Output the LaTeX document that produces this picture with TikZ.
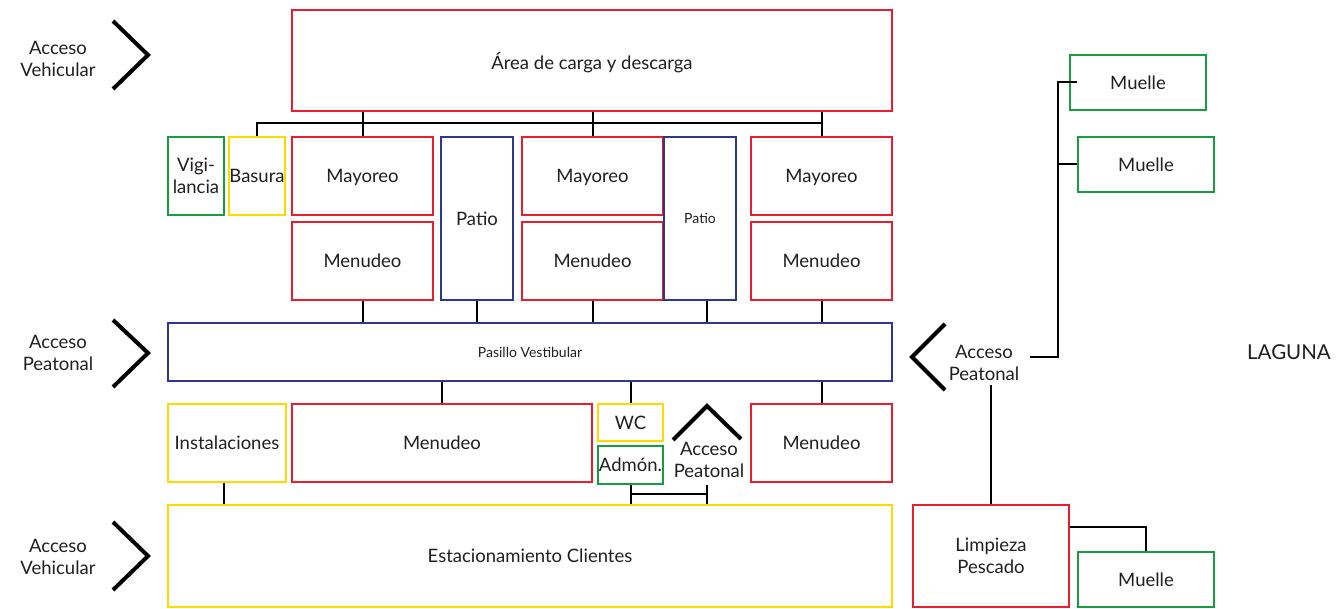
\documentclass[tikz,border=0pt]{standalone}
\usepackage{fontspec}
\setmainfont{Lato}
\definecolor{cred}{RGB}{230,30,45}
\definecolor{cblue}{RGB}{45,55,140}
\definecolor{cgreen}{RGB}{25,155,65}
\definecolor{cyellow}{RGB}{255,218,0}
\definecolor{txt}{RGB}{35,31,32}
\newcommand{\fntN}{\fontsize{18.5}{22}\selectfont}
\newcommand{\fntS}{\fontsize{14}{16}\selectfont}
\newcommand{\fntL}{\fontsize{20.5}{24}\selectfont}
\begin{document}
\begin{tikzpicture}[x=1pt,y=-1pt,
  box/.style={draw=#1, line width=1.3pt, inner sep=0pt, align=center, text=txt, font=\fntN, text depth=0pt},
  conn/.style={line width=2pt, black},
  chev/.style={line width=4pt, black},
  lbl/.style={align=center, text=txt, font=\fntN, inner sep=0pt}]
\useasboundingbox[fill=white] (0,0) rectangle (1336,609);
% top block
\node[box=cred, minimum width=600pt, minimum height=101pt] (area) at (592,60.5) {Área de carga y descarga};
\node[box=cgreen, minimum width=56pt, minimum height=78pt] (vig) at (196,176) {Vigi-\\lancia};
\node[box=cyellow, minimum width=56pt, minimum height=78pt] (bas) at (257,176) {Basura};
\node[box=cred, minimum width=141pt, minimum height=78pt] (may1) at (362.5,176) {Mayoreo};
\node[box=cred, minimum width=141pt, minimum height=78pt] (men1) at (362.5,261) {Menudeo};
\node[box=cblue, minimum width=72pt, minimum height=163pt] (pat1) at (477,218.5) {Patio};
\node[box=cred, minimum width=141pt, minimum height=78pt] (may2) at (592.5,176) {Mayoreo};
\node[box=cred, minimum width=141pt, minimum height=78pt] (men2) at (592.5,261) {Menudeo};
\node[box=cblue, minimum width=72pt, minimum height=163pt, font=\fntS] (pat2) at (700,218.5) {Patio};
\node[box=cred, minimum width=141pt, minimum height=78pt] (may3) at (821.5,176) {Mayoreo};
\node[box=cred, minimum width=141pt, minimum height=78pt] (men3) at (821.5,261) {Menudeo};
% corridor
\node[box=cblue, minimum width=724pt, minimum height=58pt, font=\fntS] (pas) at (530,352) {Pasillo Vestibular};
% lower block
\node[box=cyellow, minimum width=118pt, minimum height=78pt] (ins) at (227,443) {Instalaciones};
\node[box=cred, minimum width=300pt, minimum height=78pt] (menB) at (442,443) {Menudeo};
\node[box=cyellow, minimum width=65pt, minimum height=37pt] (wc) at (630.5,422.5) {WC};
\node[box=cgreen, minimum width=65pt, minimum height=38pt] (adm) at (630.5,465) {Admón.};
\node[box=cred, minimum width=141pt, minimum height=78pt] (menR) at (821.5,443) {Menudeo};
\node[box=cyellow, minimum width=724pt, minimum height=102pt] (park) at (530,556) {Estacionamiento Clientes};
% right side
\node[box=cgreen, minimum width=136pt, minimum height=55pt] (mu1) at (1138,82.5) {Muelle};
\node[box=cgreen, minimum width=136pt, minimum height=55pt] (mu2) at (1146,164.5) {Muelle};
\node[box=cred, minimum width=156pt, minimum height=102pt] (limp) at (991,556) {Limpieza\\Pescado};
\node[box=cgreen, minimum width=136pt, minimum height=55pt] (mu3) at (1146,579.5) {Muelle};
\node[lbl, font=\fntL] (lag) at (1289,352) {LAGUNA};
% access labels
\node[lbl] (avT) at (58,59) {Acceso\\Vehicular};
\node[lbl] (apL) at (58,353) {Acceso\\Peatonal};
\node[lbl] (avB) at (58,557) {Acceso\\Vehicular};
\node[lbl] (apM) at (709,460) {Acceso\\Peatonal};
\node[lbl] (apR) at (984,363) {Acceso\\Peatonal};
% chevrons
\draw[chev] (113,21) -- (148,55) -- (113,89);
\draw[chev] (113,320) -- (148,353) -- (113,387);
\draw[chev] (113,522) -- (148,556) -- (113,590);
\draw[chev] (945,324) -- (912,357) -- (945,390);
\draw[chev] (673,440) -- (707,406) -- (741,439);
% connectors top
\draw[conn] (bas.north) -- ++(0,-13) -| (may3.north);
\foreach \n in {may1,may2,may3} \draw[conn] (area.south -| \n.north) -- (\n.north);
\foreach \n in {men1,pat1,men2,men3} \draw[conn] (\n.south) -- (\n.south |- pas.north);
\draw[conn] ([xshift=7pt]pat2.south) -- ([xshift=7pt]pat2.south |- pas.north);
\foreach \n in {menB,wc,menR} \draw[conn] (pas.south -| \n.north) -- (\n.north);
\draw[conn] ([xshift=-3pt]ins.south) -- ([xshift=-3pt]ins.south |- park.north);
\coordinate (brk) at (707,494);
\draw[conn] (adm.south) -- (adm.south |- park.north);
\draw[conn] (brk -| adm.south) -- (brk);
\draw[conn] (brk |- adm.south) -- (brk |- park.north);
% right connectors
\coordinate (jn) at (1058,357);
\coordinate (rs) at (1030,357);
\draw[conn] (rs) -- (jn) -- (jn |- mu1.west) -- (mu2.west |- mu1.west);
\draw[conn] (jn |- mu2.west) -- (mu2.west);
\draw[conn] ([yshift=-4pt]apR.south -| limp.north) -- (limp.north);
\draw[conn] ([yshift=29pt]limp.east) -| (mu3.north);
\end{tikzpicture}
\end{document}
